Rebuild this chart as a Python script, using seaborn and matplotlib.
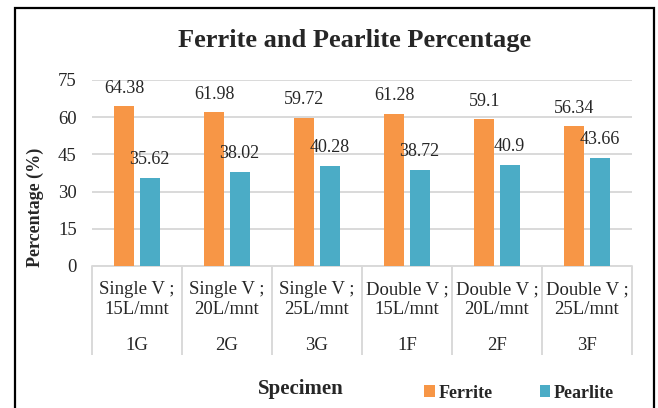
import pandas as pd
import matplotlib.pyplot as plt
import seaborn as sns
from matplotlib.patches import Rectangle
from matplotlib.transforms import blended_transform_factory

# === DATA ===
specimens = ["1G", "2G", "3G", "1F", "2F", "3F"]
conditions = ["Single V ;\n15L/mnt", "Single V ;\n20L/mnt", "Single V ;\n25L/mnt",
              "Double V ;\n15L/mnt", "Double V ;\n20L/mnt", "Double V ;\n25L/mnt"]
ferrite = [64.38, 61.98, 59.72, 61.28, 59.1, 56.34]
pearlite = [35.62, 38.02, 40.28, 38.72, 40.9, 43.66]
phases = ["Ferrite", "Pearlite"]
colors = ["#F79646", "#4BACC6"]
yticks = [0, 15, 30, 45, 60, 75]

df = pd.DataFrame({
    "Specimen": specimens * 2,
    "Phase": [phases[0]] * len(specimens) + [phases[1]] * len(specimens),
    "Percentage": ferrite + pearlite,
})

# === STYLE ===
sns.set_style("white")
plt.rcParams["font.family"] = ["Liberation Serif", "DejaVu Serif"]
W, H = 658, 408
grid_col = "#D9D9D9"

fig = plt.figure(figsize=(W / 100, H / 100), dpi=100)
ax = fig.add_axes([92 / W, 1 - 266 / H, 540 / W, 186 / H])

sns.barplot(data=df, x="Specimen", y="Percentage", hue="Phase", palette=colors,
            width=0.56, gap=0.2, ax=ax, linewidth=0, saturation=1)

# data labels
for cont, vals in zip(ax.containers, [ferrite, pearlite]):
    ax.bar_label(cont, labels=[f"{v:g}" for v in vals], padding=7, fontsize=13)

ax.set_xlim(-0.5, len(specimens) - 0.5)
ax.set_ylim(0, 75)
ax.set_yticks(yticks)
ax.set_xticks([])
ax.set_xlabel("")
ax.set_ylabel("")
ax.tick_params(axis="y", length=0, pad=11, labelsize=13.5)
ax.yaxis.grid(True, color=grid_col, lw=1.4)
ax.set_axisbelow(True)
sns.despine(ax=ax, left=True, bottom=True)

# multi-level category axis
trans = blended_transform_factory(ax.transData, ax.transAxes)
ax.axhline(0, color=grid_col, lw=1.4, clip_on=False, zorder=0.5)
ax.vlines([i - 0.5 for i in range(len(specimens) + 1)], -0.478, 0, transform=trans,
          color=grid_col, lw=1.4, clip_on=False)
for i, (cond, spec) in enumerate(zip(conditions, specimens)):
    ax.text(i, -0.18, cond, transform=trans, ha="center", va="center",
            fontsize=13.5, linespacing=1.2)
    ax.text(i, -0.425, spec, transform=trans, ha="center", va="center", fontsize=13.5)

# legend
handles, labels = ax.get_legend_handles_labels()
if ax.legend_:
    ax.legend_.remove()
fig.legend(handles, labels, loc="center left", bbox_to_anchor=(424 / W, 1 - 393 / H),
           ncol=2, frameon=False, handlelength=0.6, handleheight=0.6,
           handletextpad=0.2, columnspacing=2.6, borderpad=0, borderaxespad=0,
           prop={"weight": "bold", "size": 13})

# titles
fig.text(355 / W, 1 - 41 / H, "Ferrite and Pearlite Percentage", ha="center", va="center",
         fontsize=19, fontweight="bold")
fig.text(301 / W, 1 - 389 / H, "Specimen", ha="center", va="center",
         fontsize=15, fontweight="bold")
fig.text(35 / W, 1 - 207 / H, "Percentage (%)", ha="center", va="center", rotation=90,
         fontsize=13, fontweight="bold")

# chart border
fig.patches.append(Rectangle((14.5 / W, -0.1), (654 - 14.5) / W, 1 - 8 / H + 0.1,
                             transform=fig.transFigure, fill=False, ec="black", lw=1.6))

fig.savefig("out.png", dpi=100)
